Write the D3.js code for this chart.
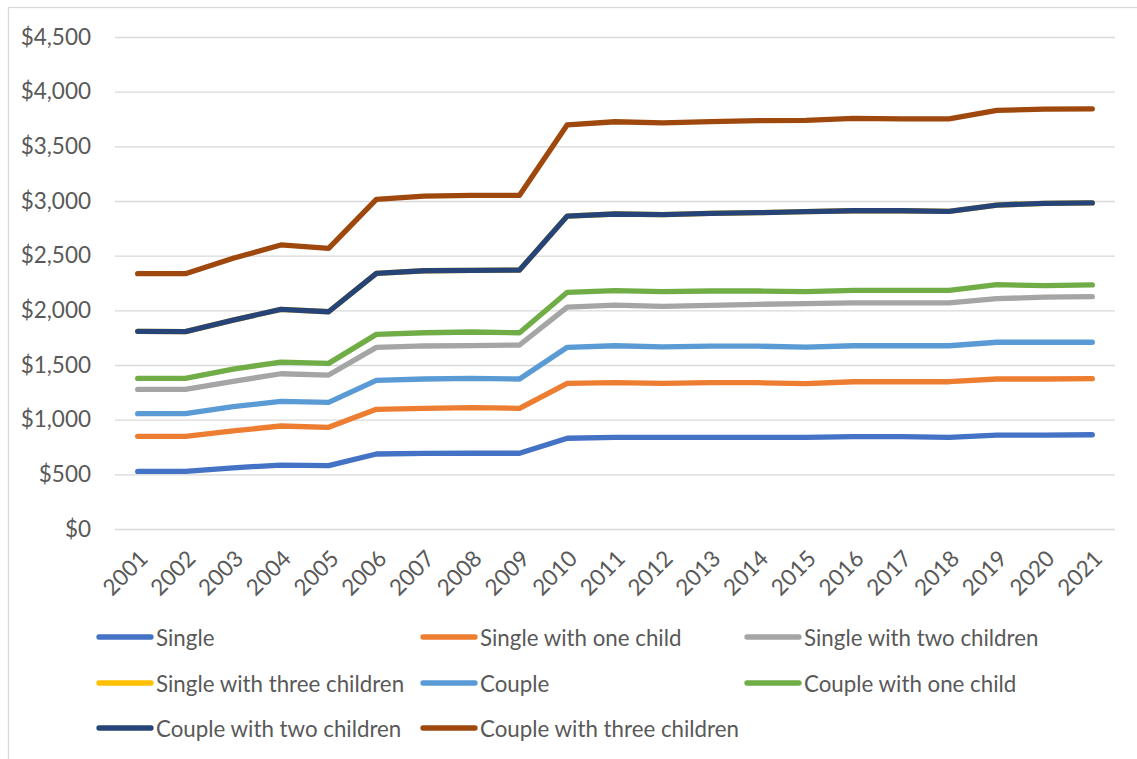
<!DOCTYPE html>
<html>
<head>
<meta charset="utf-8">
<script src="https://cdn.jsdelivr.net/npm/d3@7"></script>
<style>
  html, body { margin: 0; padding: 0; background: #fff; }
  svg { display: block; }
  text { font-family: Lato, "Open Sans", sans-serif; fill: #595959; }
</style>
</head>
<body>
<svg id="chart" width="1137" height="759"></svg>
<script>
const years = ["2001","2002","2003","2004","2005","2006","2007","2008","2009","2010","2011","2012","2013","2014","2015","2016","2017","2018","2019","2020","2021"];
const yTicks = [0, 500, 1000, 1500, 2000, 2500, 3000, 3500, 4000, 4500];

const seriesNames = ["Single","Single with one child","Single with two children","Single with three children","Couple","Couple with one child","Couple with two children","Couple with three children"];
const seriesColors = ["#4472C4","#ED7D31","#A5A5A5","#FFC000","#5B9BD5","#70AD47","#264478","#9E480E"];

const single        = [527, 527, 560, 585, 580, 686, 692, 693, 693, 830, 838, 838, 838, 838, 838, 845, 845, 838, 858, 858, 862];
const singleOne     = [848, 848, 897, 942, 930, 1095, 1104, 1110, 1104, 1332, 1338, 1332, 1338, 1338, 1330, 1347, 1347, 1347, 1372, 1372, 1375];
const singleTwo     = [1277, 1277, 1350, 1420, 1408, 1661, 1674, 1677, 1683, 2030, 2048, 2037, 2046, 2055, 2062, 2068, 2068, 2068, 2107, 2120, 2125];
const singleThree   = [1808, 1805, 1911, 2009, 1987, 2338, 2362, 2366, 2368, 2862, 2881, 2875, 2887, 2893, 2902, 2911, 2911, 2905, 2963, 2979, 2982];
const couple        = [1055, 1055, 1119, 1168, 1159, 1360, 1372, 1378, 1372, 1662, 1676, 1666, 1672, 1672, 1663, 1676, 1676, 1676, 1708, 1708, 1708];
const coupleOne     = [1377, 1377, 1463, 1527, 1515, 1780, 1795, 1802, 1795, 2165, 2181, 2171, 2177, 2177, 2171, 2183, 2183, 2183, 2235, 2226, 2232];
const coupleTwo     = [1808, 1805, 1911, 2009, 1987, 2338, 2362, 2366, 2368, 2862, 2881, 2875, 2887, 2893, 2902, 2911, 2911, 2905, 2963, 2979, 2982];
const coupleThree   = [2335, 2335, 2476, 2598, 2567, 3015, 3045, 3052, 3052, 3697, 3725, 3714, 3726, 3735, 3737, 3755, 3752, 3752, 3828, 3840, 3843];

const seriesValues = [single, singleOne, singleTwo, singleThree, couple, coupleOne, coupleTwo, coupleThree];

const svg = d3.select("#chart");

// outer chart border (cropped on right/bottom)
svg.append("rect")
  .attr("x", 8.5).attr("y", 7.5)
  .attr("width", 1140).attr("height", 760)
  .attr("fill", "none").attr("stroke", "#d9d9d9").attr("stroke-width", 1.3);

const plotLeft = 115, plotRight = 1115, plotTop = 37, plotBottom = 529;

const x = d3.scalePoint().domain(years).range([137.7, 1092.3]);
const y = d3.scaleLinear().domain([0, 4500]).range([plotBottom, plotTop]);

// gridlines
const grid = svg.append("g")
  .attr("transform", `translate(${plotLeft},0)`)
  .call(d3.axisRight(y).tickValues(yTicks).tickSize(plotRight - plotLeft).tickFormat(""));
grid.select(".domain").remove();
grid.selectAll(".tick line").attr("stroke", "#d9d9d9").attr("stroke-width", 1.3);

// y axis labels
const yAxis = svg.append("g")
  .attr("transform", `translate(${plotLeft},0)`)
  .call(d3.axisLeft(y).tickValues(yTicks).tickSize(0).tickPadding(24)
    .tickFormat(d => "$" + d3.format(",")(d)));
yAxis.select(".domain").remove();
yAxis.selectAll("text")
  .style("font-family", "Lato, 'Open Sans', sans-serif")
  .style("font-size", "22.5px").attr("fill", "#595959");

// x axis labels
const xAxis = svg.append("g")
  .attr("transform", `translate(0,${plotBottom})`)
  .call(d3.axisBottom(x).tickSize(0).tickPadding(0));
xAxis.select(".domain").remove();
xAxis.selectAll("text")
  .style("font-family", "Lato, 'Open Sans', sans-serif")
  .style("font-size", "22.5px").attr("fill", "#595959")
  .attr("text-anchor", "end")
  .attr("dy", null)
  .attr("y", 0)
  .attr("transform", "translate(7,27) rotate(-45)")
  .attr("dominant-baseline", "middle");

// lines
const line = d3.line().x((d, i) => x(years[i])).y(d => y(d));
svg.append("g").selectAll("path")
  .data(seriesValues)
  .join("path")
  .attr("d", d => line(d))
  .attr("fill", "none")
  .attr("stroke", (d, i) => seriesColors[i])
  .attr("stroke-width", 5.3)
  .attr("stroke-linejoin", "round")
  .attr("stroke-linecap", "round");

// legend
const legendCols = [97, 421, 745];
const legendRows = [637, 683, 728];
const legend = svg.append("g");
seriesNames.forEach((name, i) => {
  const cx = legendCols[i % 3];
  const cy = legendRows[Math.floor(i / 3)];
  const g = legend.append("g").attr("transform", `translate(${cx},${cy})`);
  g.append("line")
    .attr("x1", 2).attr("x2", 54).attr("y1", 0).attr("y2", 0)
    .attr("stroke", seriesColors[i]).attr("stroke-width", 5.3)
    .attr("stroke-linecap", "round");
  g.append("text")
    .attr("x", 59).attr("y", 0)
    .attr("dominant-baseline", "central")
    .style("font-size", "22.3px")
    .text(name);
});
</script>
</body>
</html>
